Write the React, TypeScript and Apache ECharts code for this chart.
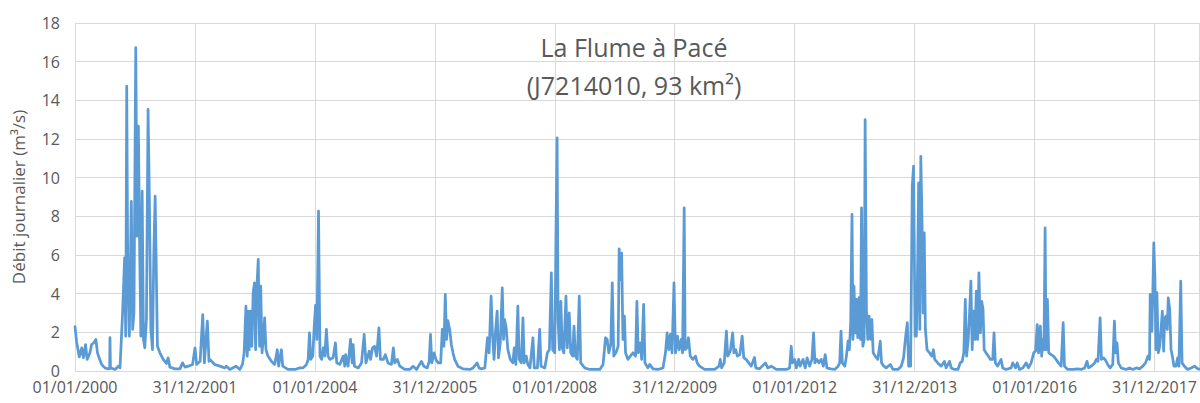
import React, { useEffect, useRef } from "react";
import * as echarts from "echarts";

type P = [string, number];

const TITLE_LINE1 = "La Flume à Pacé";
const TITLE_LINE2 = "(J7214010, 93 km²)";
const Y_NAME = "Débit journalier (m³/s)";
const START_DATE = "2000-01-01";
const END_DATE = "2018-10-01";
const TICK_STEP_DAYS = 730.5;
const Y_MAX = 18;
const Y_STEP = 2;

const flow2000_2001: P[] = [
  ["2000-01-01", 2.3], ["2000-01-11", 1.5], ["2000-01-27", 0.73], ["2000-02-11", 1.2], ["2000-02-21", 0.68],
  ["2000-03-05", 1.37], ["2000-03-15", 0.6], ["2000-04-01", 0.94], ["2000-04-11", 1.37], ["2000-04-25", 1.46],
  ["2000-05-07", 1.63], ["2000-05-17", 0.94], ["2000-05-27", 0.68], ["2000-06-11", 0.34], ["2000-07-01", 0.16],
  ["2000-07-21", 0.11], ["2000-07-30", 0.12], ["2000-08-01", 1.72], ["2000-08-04", 0.16], ["2000-09-01", 0.08],
  ["2000-09-21", 0.25], ["2000-10-01", 0.16], ["2000-10-15", 2.66], ["2000-10-21", 3.96], ["2000-10-29", 5.85],
  ["2000-11-05", 1.8], ["2000-11-11", 14.73], ["2000-11-17", 5.6], ["2000-11-27", 1.8], ["2000-12-09", 8.78],
  ["2000-12-17", 2.15], ["2000-12-25", 3.0], ["2001-01-05", 16.72], ["2001-01-13", 6.97], ["2001-01-21", 12.66],
  ["2001-01-29", 6.1], ["2001-02-05", 1.8], ["2001-02-13", 9.3], ["2001-02-21", 1.63], ["2001-03-01", 1.2],
  ["2001-03-11", 2.66], ["2001-03-21", 13.53], ["2001-03-29", 8.87], ["2001-04-07", 2.15], ["2001-04-17", 1.1],
  ["2001-04-25", 6.1], ["2001-05-03", 9.04], ["2001-05-09", 5.85], ["2001-05-17", 1.28], ["2001-06-01", 0.94],
  ["2001-06-21", 0.6], ["2001-07-11", 0.39], ["2001-07-21", 0.68], ["2001-08-01", 0.2], ["2001-09-01", 0.11],
  ["2001-10-01", 0.11], ["2001-10-17", 0.42], ["2001-11-01", 0.2], ["2001-11-21", 0.25], ["2001-12-17", 0.34],
];

const flow2002_2003: P[] = [
  ["2002-01-01", 1.2], ["2002-01-11", 0.34], ["2002-02-01", 0.5], ["2002-02-17", 2.92], ["2002-02-27", 0.42],
  ["2002-03-17", 2.58], ["2002-03-27", 0.5], ["2002-04-01", 0.6], ["2002-05-01", 0.34], ["2002-06-01", 0.25],
  ["2002-07-01", 0.16], ["2002-07-11", 0.25], ["2002-08-01", 0.08], ["2002-09-07", 0.25], ["2002-10-01", 0.08],
  ["2002-10-17", 0.34], ["2002-10-27", 0.94], ["2002-11-07", 3.35], ["2002-11-15", 0.77], ["2002-11-21", 3.1],
  ["2002-11-27", 1.1], ["2002-12-05", 3.1], ["2002-12-13", 1.28], ["2002-12-21", 4.04], ["2002-12-29", 4.56],
  ["2003-01-05", 1.1], ["2003-01-13", 4.39], ["2003-01-21", 5.77], ["2003-01-29", 1.28], ["2003-02-05", 4.39],
  ["2003-02-13", 0.94], ["2003-02-21", 1.63], ["2003-03-01", 2.75], ["2003-03-09", 1.1], ["2003-03-21", 0.77],
  ["2003-04-11", 0.5], ["2003-05-01", 0.34], ["2003-05-17", 1.1], ["2003-05-25", 0.25], ["2003-06-11", 1.1],
  ["2003-06-19", 0.25], ["2003-07-21", 0.08], ["2003-09-01", 0.08], ["2003-10-01", 0.16], ["2003-10-21", 0.16],
  ["2003-11-11", 0.34], ["2003-11-21", 0.6], ["2003-11-29", 1.97], ["2003-12-07", 0.6], ["2003-12-19", 0.77],
  ["2003-12-27", 2.15],
];

const flow2004_2005: P[] = [
  ["2004-01-05", 3.4], ["2004-01-13", 1.63], ["2004-01-23", 8.27], ["2004-02-01", 0.77], ["2004-02-11", 0.6],
  ["2004-02-21", 1.2], ["2004-03-01", 0.77], ["2004-03-11", 2.15], ["2004-03-21", 0.77], ["2004-04-01", 0.6],
  ["2004-04-21", 0.68], ["2004-05-05", 1.46], ["2004-05-13", 0.42], ["2004-06-01", 0.34], ["2004-06-21", 0.77],
  ["2004-07-01", 0.25], ["2004-07-06", 0.85], ["2004-07-21", 0.25], ["2004-08-05", 1.63], ["2004-08-15", 0.42],
  ["2004-08-21", 1.37], ["2004-08-29", 0.25], ["2004-09-21", 0.16], ["2004-10-11", 0.42], ["2004-10-27", 1.89],
  ["2004-11-07", 0.42], ["2004-11-27", 1.03], ["2004-12-05", 0.6], ["2004-12-17", 1.2], ["2004-12-29", 1.28],
  ["2005-01-11", 0.77], ["2005-01-25", 2.23], ["2005-02-03", 0.6], ["2005-02-21", 0.6], ["2005-03-05", 0.85],
  ["2005-03-21", 0.42], ["2005-04-11", 0.34], ["2005-04-23", 1.2], ["2005-05-01", 0.42], ["2005-05-17", 0.6],
  ["2005-06-01", 0.25], ["2005-07-01", 0.08], ["2005-08-01", 0.08], ["2005-08-21", 0.25], ["2005-09-11", 0.08],
  ["2005-10-11", 0.5], ["2005-10-25", 0.25], ["2005-11-15", 0.16], ["2005-11-27", 0.5], ["2005-12-05", 1.89],
  ["2005-12-13", 0.42], ["2005-12-27", 0.94],
];

const flow2006_2007: P[] = [
  ["2006-01-07", 0.6], ["2006-01-21", 0.42], ["2006-02-05", 0.42], ["2006-02-15", 2.15], ["2006-02-25", 1.28],
  ["2006-03-05", 3.96], ["2006-03-13", 1.63], ["2006-03-21", 2.6], ["2006-04-01", 2.15], ["2006-04-11", 1.37],
  ["2006-04-21", 0.94], ["2006-05-01", 0.6], ["2006-05-21", 0.25], ["2006-06-21", 0.11], ["2006-08-01", 0.08],
  ["2006-08-21", 0.16], ["2006-09-15", 0.42], ["2006-09-27", 0.16], ["2006-10-11", 0.11], ["2006-11-01", 0.16],
  ["2006-11-17", 1.72], ["2006-11-27", 0.94], ["2006-12-09", 3.87], ["2006-12-17", 1.97], ["2006-12-27", 0.6],
  ["2007-01-05", 2.06], ["2007-01-15", 3.1], ["2007-01-23", 0.68], ["2007-02-03", 1.46], ["2007-02-15", 4.3],
  ["2007-02-23", 1.63], ["2007-03-01", 2.66], ["2007-03-11", 2.23], ["2007-03-21", 1.1], ["2007-04-05", 0.6],
  ["2007-04-21", 0.42], ["2007-04-29", 1.2], ["2007-05-09", 0.34], ["2007-05-21", 3.35], ["2007-05-29", 0.6],
  ["2007-06-11", 0.42], ["2007-06-21", 2.75], ["2007-06-29", 0.42], ["2007-07-11", 0.77], ["2007-07-21", 0.34],
  ["2007-08-03", 0.16], ["2007-08-21", 1.72], ["2007-08-29", 0.16], ["2007-09-17", 0.16], ["2007-10-01", 2.15],
  ["2007-10-09", 0.25], ["2007-11-01", 0.16], ["2007-11-17", 0.94], ["2007-11-29", 1.1], ["2007-12-11", 5.08],
  ["2007-12-19", 1.1],
];

const flow2008_2009: P[] = [
  ["2008-01-01", 0.94], ["2008-01-09", 7.75], ["2008-01-15", 12.06], ["2008-01-21", 2.66], ["2008-01-29", 1.1],
  ["2008-02-07", 3.6], ["2008-02-15", 1.2], ["2008-02-25", 0.94], ["2008-03-09", 3.87], ["2008-03-17", 1.2],
  ["2008-03-29", 3.0], ["2008-04-07", 0.94], ["2008-04-19", 0.77], ["2008-04-27", 2.32], ["2008-05-05", 0.77],
  ["2008-05-17", 0.6], ["2008-05-29", 3.87], ["2008-06-07", 0.42], ["2008-07-01", 0.16], ["2008-08-01", 0.08],
  ["2008-09-01", 0.08], ["2008-10-01", 0.08], ["2008-10-21", 0.34], ["2008-11-05", 1.72], ["2008-11-15", 1.63],
  ["2008-11-25", 0.94], ["2008-12-07", 1.37], ["2008-12-16", 4.56], ["2008-12-25", 0.77], ["2009-01-07", 0.94],
  ["2009-01-21", 1.28], ["2009-01-27", 6.32], ["2009-02-05", 4.73], ["2009-02-11", 6.1], ["2009-02-19", 1.63],
  ["2009-02-28", 2.84], ["2009-03-07", 0.94], ["2009-03-21", 0.6], ["2009-04-05", 0.77], ["2009-04-21", 0.94],
  ["2009-05-07", 0.77], ["2009-05-15", 3.6], ["2009-05-23", 0.94], ["2009-06-05", 1.46], ["2009-06-13", 0.6],
  ["2009-06-25", 3.44], ["2009-07-03", 0.42], ["2009-07-21", 0.16], ["2009-08-01", 0.34], ["2009-08-21", 0.11],
  ["2009-09-21", 0.08], ["2009-10-21", 0.16], ["2009-11-05", 0.94], ["2009-11-15", 1.97], ["2009-11-25", 1.1],
  ["2009-12-05", 1.89], ["2009-12-15", 0.94], ["2009-12-27", 4.56],
];

const flow2010_2011: P[] = [
  ["2010-01-05", 0.94], ["2010-01-17", 1.8], ["2010-01-27", 1.1], ["2010-02-09", 1.63], ["2010-02-17", 0.94],
  ["2010-02-27", 8.44], ["2010-03-05", 1.1], ["2010-03-15", 1.2], ["2010-03-25", 1.72], ["2010-04-05", 0.77],
  ["2010-04-21", 0.6], ["2010-05-07", 0.77], ["2010-05-17", 0.42], ["2010-06-01", 0.25], ["2010-07-01", 0.08],
  ["2010-08-01", 0.08], ["2010-09-01", 0.08], ["2010-09-27", 0.25], ["2010-10-05", 0.6], ["2010-10-13", 0.16],
  ["2010-10-29", 0.42], ["2010-11-11", 2.06], ["2010-11-19", 0.77], ["2010-12-05", 1.03], ["2010-12-19", 1.97],
  ["2010-12-27", 0.94], ["2011-01-07", 1.1], ["2011-01-17", 0.77], ["2011-02-01", 0.85], ["2011-02-15", 1.8],
  ["2011-02-25", 0.68], ["2011-03-11", 0.6], ["2011-03-27", 0.42], ["2011-04-11", 0.25], ["2011-05-01", 0.7],
  ["2011-05-09", 0.16], ["2011-06-01", 0.11], ["2011-06-17", 0.25], ["2011-07-07", 0.42], ["2011-07-21", 0.16],
  ["2011-08-11", 0.25], ["2011-09-11", 0.08], ["2011-10-11", 0.08], ["2011-11-11", 0.08], ["2011-12-01", 0.16],
  ["2011-12-11", 1.28], ["2011-12-19", 0.42],
];

const flow2012_2013: P[] = [
  ["2012-01-01", 0.6], ["2012-01-11", 0.16], ["2012-01-25", 0.6], ["2012-02-03", 0.25], ["2012-02-21", 0.6],
  ["2012-03-05", 0.16], ["2012-03-17", 0.68], ["2012-04-01", 0.25], ["2012-04-15", 0.6], ["2012-04-25", 1.97],
  ["2012-05-03", 0.42], ["2012-05-15", 0.6], ["2012-05-27", 0.42], ["2012-06-11", 0.6], ["2012-06-23", 0.25],
  ["2012-07-05", 0.85], ["2012-07-15", 0.16], ["2012-08-07", 0.11], ["2012-09-01", 0.08], ["2012-09-21", 0.25],
  ["2012-10-01", 0.42], ["2012-10-09", 2.06], ["2012-10-17", 0.42], ["2012-11-01", 0.25], ["2012-11-11", 0.77],
  ["2012-11-21", 1.54], ["2012-11-29", 1.1], ["2012-12-07", 2.5], ["2012-12-15", 8.1], ["2012-12-21", 1.63],
  ["2012-12-27", 4.39], ["2013-01-05", 1.97], ["2013-01-11", 3.7], ["2013-01-19", 1.72], ["2013-01-27", 3.8],
  ["2013-02-05", 1.63], ["2013-02-11", 8.44], ["2013-02-19", 1.28], ["2013-02-27", 1.63], ["2013-03-05", 13.0],
  ["2013-03-13", 3.18], ["2013-03-21", 1.63], ["2013-03-29", 2.84], ["2013-04-07", 1.63], ["2013-04-15", 2.66],
  ["2013-04-23", 0.94], ["2013-05-05", 0.77], ["2013-05-21", 0.6], ["2013-06-05", 1.54], ["2013-06-13", 0.42],
  ["2013-06-27", 0.25], ["2013-07-11", 0.16], ["2013-08-05", 0.34], ["2013-08-21", 0.08], ["2013-09-21", 0.08],
  ["2013-10-11", 0.25], ["2013-10-25", 0.68], ["2013-11-07", 1.8], ["2013-11-17", 2.5], ["2013-11-25", 0.25],
  ["2013-12-07", 0.25], ["2013-12-17", 9.56], ["2013-12-25", 10.6],
];

const flow2014_2015: P[] = [
  ["2014-01-03", 1.8], ["2014-01-11", 1.8], ["2014-01-17", 4.39], ["2014-01-25", 9.73], ["2014-02-01", 2.15],
  ["2014-02-07", 11.1], ["2014-02-15", 7.5], ["2014-02-21", 3.0], ["2014-02-28", 7.15], ["2014-03-07", 2.15],
  ["2014-03-17", 1.1], ["2014-04-01", 0.94], ["2014-04-15", 0.77], ["2014-04-25", 1.1], ["2014-05-03", 0.6],
  ["2014-05-21", 0.42], ["2014-06-11", 0.25], ["2014-07-01", 0.5], ["2014-07-11", 0.16], ["2014-08-01", 0.5],
  ["2014-08-11", 0.16], ["2014-09-01", 0.08], ["2014-09-21", 0.08], ["2014-10-05", 0.42], ["2014-10-17", 0.5],
  ["2014-10-27", 0.94], ["2014-11-05", 3.7], ["2014-11-13", 0.77], ["2014-11-23", 1.63], ["2014-12-01", 3.0],
  ["2014-12-09", 4.65], ["2014-12-17", 1.1], ["2014-12-25", 3.1], ["2015-01-03", 1.63], ["2015-01-11", 4.13],
  ["2015-01-19", 1.63], ["2015-01-27", 5.08], ["2015-02-05", 1.97], ["2015-02-13", 3.6], ["2015-02-21", 3.18],
  ["2015-02-28", 1.1], ["2015-03-11", 0.94], ["2015-03-25", 0.77], ["2015-04-07", 0.6], ["2015-04-21", 0.6],
  ["2015-04-29", 1.97], ["2015-05-07", 0.42], ["2015-05-21", 0.25], ["2015-06-11", 0.6], ["2015-06-21", 0.16],
  ["2015-07-11", 0.08], ["2015-08-11", 0.16], ["2015-08-21", 0.42], ["2015-09-07", 0.16], ["2015-09-17", 0.42],
  ["2015-10-01", 0.08], ["2015-10-21", 0.16], ["2015-11-11", 0.42], ["2015-11-25", 0.16], ["2015-12-11", 0.42],
  ["2015-12-27", 0.94],
];

const flow2016_2018: P[] = [
  ["2016-01-07", 1.03], ["2016-01-17", 2.4], ["2016-01-25", 0.94], ["2016-02-05", 2.32], ["2016-02-13", 0.77],
  ["2016-02-21", 1.63], ["2016-02-27", 1.1], ["2016-03-05", 7.4], ["2016-03-11", 1.1], ["2016-03-19", 3.7],
  ["2016-03-27", 0.94], ["2016-04-11", 0.85], ["2016-04-25", 0.77], ["2016-05-11", 0.6], ["2016-05-25", 0.42],
  ["2016-06-11", 0.25], ["2016-06-23", 2.5], ["2016-07-01", 0.25], ["2016-07-21", 0.08], ["2016-08-21", 0.08],
  ["2016-09-21", 0.11], ["2016-10-11", 0.08], ["2016-11-01", 0.16], ["2016-11-15", 0.5], ["2016-11-25", 0.16],
  ["2016-12-11", 0.25], ["2017-01-01", 0.42], ["2017-01-11", 0.6], ["2017-01-21", 0.5], ["2017-02-03", 2.75],
  ["2017-02-11", 0.6], ["2017-02-23", 0.68], ["2017-03-05", 0.6], ["2017-03-21", 0.34], ["2017-04-05", 0.16],
  ["2017-04-21", 0.34], ["2017-05-01", 2.58], ["2017-05-09", 0.94], ["2017-05-17", 1.46], ["2017-05-25", 0.42],
  ["2017-06-11", 0.16], ["2017-07-11", 0.08], ["2017-08-01", 0.16], ["2017-08-21", 0.08], ["2017-09-11", 0.16],
  ["2017-10-01", 0.11], ["2017-10-21", 0.25], ["2017-11-07", 0.42], ["2017-11-21", 0.77], ["2017-12-01", 0.6],
  ["2017-12-05", 3.96], ["2017-12-15", 2.06], ["2017-12-21", 4.04], ["2017-12-27", 6.63], ["2018-01-03", 4.73],
  ["2018-01-09", 1.1], ["2018-01-15", 4.05], ["2018-01-23", 0.94], ["2018-02-01", 1.28], ["2018-02-09", 2.15],
  ["2018-02-17", 3.1], ["2018-02-25", 1.03], ["2018-03-03", 2.66], ["2018-03-11", 2.84], ["2018-03-19", 2.15],
  ["2018-03-25", 3.78], ["2018-04-03", 3.18], ["2018-04-11", 1.1], ["2018-04-19", 0.77], ["2018-04-29", 0.25],
  ["2018-05-11", 0.25], ["2018-05-21", 0.68], ["2018-05-29", 0.25], ["2018-06-09", 4.65], ["2018-06-17", 0.42],
  ["2018-07-01", 0.25], ["2018-07-21", 0.08], ["2018-08-11", 0.16], ["2018-09-01", 0.25], ["2018-09-21", 0.11],
  ["2018-09-30", 0.1],
];

const DAY = 86400000;
const toUTC = (s: string) => {
  const [y, m, d] = s.split("-").map(Number);
  return Date.UTC(y, m - 1, d);
};
const BASE = toUTC(START_DATE);
const dayIndex = (s: string) => Math.round((toUTC(s) - BASE) / DAY);
const pad = (n: number) => (n < 10 ? "0" + n : "" + n);
const fmtDay = (v: number) => {
  const d = new Date(BASE + Math.floor(v + 1e-6) * DAY);
  return `${pad(d.getUTCDate())}/${pad(d.getUTCMonth() + 1)}/${d.getUTCFullYear()}`;
};

const allFlow: P[] = [
  ...flow2000_2001, ...flow2002_2003, ...flow2004_2005, ...flow2006_2007, ...flow2008_2009,
  ...flow2010_2011, ...flow2012_2013, ...flow2014_2015, ...flow2016_2018,
];

const FONT = "'Open Sans', 'Noto Sans', sans-serif";
const GREY = "#595959";
const GRID = "#D9D9D9";

export default function App() {
  const ref = useRef<HTMLDivElement>(null);
  useEffect(() => {
    if (!ref.current) return;
    const chart = echarts.init(ref.current, undefined, { renderer: "svg" });
    const maxDay = dayIndex(END_DATE);
    chart.setOption({
      animation: false,
      backgroundColor: "#ffffff",
      textStyle: { fontFamily: FONT },
      title: {
        text: TITLE_LINE1 + "\n" + TITLE_LINE2,
        left: 629,
        top: 23,
        textAlign: "center",
        textStyle: { fontFamily: FONT, fontSize: 25, fontWeight: "normal", color: GREY, lineHeight: 38 },
      },
      grid: { left: 75, right: 0, top: 23, bottom: 32, containLabel: false },
      xAxis: {
        type: "value",
        min: 0,
        max: maxDay,
        interval: TICK_STEP_DAYS,
        axisLine: { show: true, lineStyle: { color: GRID, width: 1 } },
        axisTick: { show: false },
        splitLine: { show: true, lineStyle: { color: GRID, width: 1 } },
        axisLabel: {
          color: GREY,
          fontFamily: FONT,
          fontSize: 16,
          lineHeight: 16,
          margin: 8,
          showMaxLabel: false,
          formatter: (v: number) => (Math.abs(v / TICK_STEP_DAYS - Math.round(v / TICK_STEP_DAYS)) < 1e-6 ? fmtDay(v) : ""),
        },
      },
      yAxis: {
        type: "value",
        min: 0,
        max: Y_MAX,
        interval: Y_STEP,
        name: Y_NAME,
        nameLocation: "middle",
        nameGap: 48,
        nameTextStyle: { color: GREY, fontFamily: FONT, fontSize: 17 },
        axisLine: { show: false },
        axisTick: { show: false },
        splitLine: { show: true, lineStyle: { color: GRID, width: 1 } },
        axisLabel: { color: GREY, fontFamily: FONT, fontSize: 16, lineHeight: 14, margin: 15 },
      },
      series: [
        {
          type: "line",
          data: allFlow.map(([d, v]) => [dayIndex(d), v]),
          showSymbol: false,
          symbol: "none",
          lineStyle: { color: "#5B9BD5", width: 2.75, join: "round", cap: "round" },
          itemStyle: { color: "#5B9BD5" },
        },
      ],
    });
    return () => chart.dispose();
  }, []);
  return <div ref={ref} style={{ position: "fixed", left: 0, top: 0, width: 1200, height: 403 }} />;
}
